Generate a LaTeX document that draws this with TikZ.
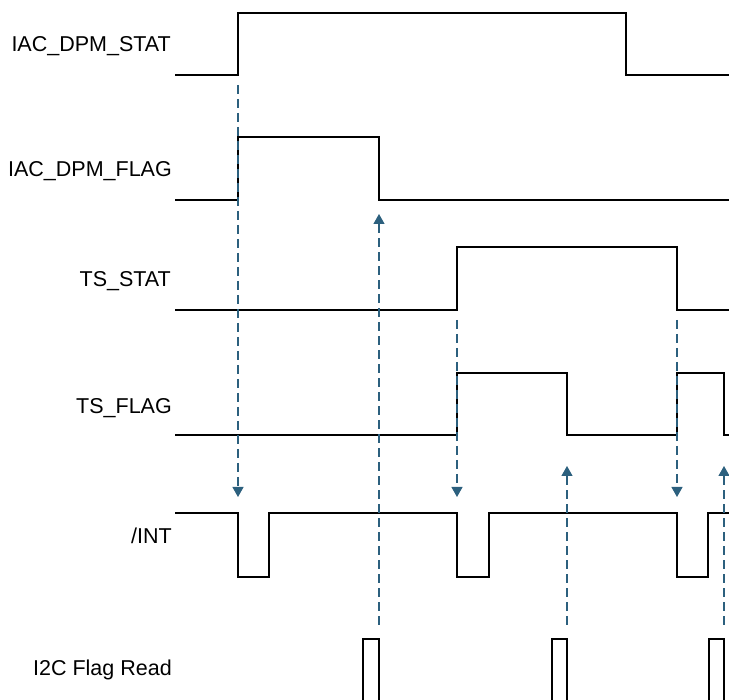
\documentclass[tikz,border=0pt]{standalone}
\usepackage{fontspec}
\setmainfont{Liberation Sans}
\usepackage{tikz}
\usetikzlibrary{arrows.meta}
\definecolor{eventblue}{RGB}{44,96,126}

\begin{document}
\begin{tikzpicture}[x=1pt,y=-1pt,
    wave/.style={line width=2pt,black,line join=miter},
    evarrow/.style={eventblue,line width=1.2pt,dash pattern=on 9pt off 5pt,-{Triangle[width=11pt,length=10pt]}},
    sig/.style={anchor=base east,inner sep=0pt,font=\fontsize{21.5}{25}\selectfont}]
\useasboundingbox (0,0) rectangle (729,700);
% signal names
\node[sig] (dpmstat) at (171,52) {IAC\_DPM\_STAT};
\node[sig] (dpmflag) at (172,177) {IAC\_DPM\_FLAG};
\node[sig] (tsstat) at (171,287) {TS\_STAT};
\node[sig] (tsflag) at (172,414) {TS\_FLAG};
\node[sig] (int) at (172,544) {/INT};
\node[sig] (i2c) at (172,675) {I2C Flag Read};
% waveforms
\draw[wave] (175,75)--(238,75)--(238,13)--(626,13)--(626,75)--(729,75);
\draw[wave] (175,200)--(238,200)--(238,137)--(379,137)--(379,200)--(729,200);
\draw[wave] (175,310)--(457,310)--(457,247)--(677,247)--(677,310)--(729,310);
\draw[wave] (175,435)--(457,435)--(457,373)--(567,373)--(567,435)--(677,435)--(677,373)--(724,373)--(724,435)--(729,435);
\draw[wave] (175,513)--(238,513)--(238,577)--(269,577)--(269,513)--(457,513)--(457,577)--(489,577)--(489,513)--(677,513)--(677,577)--(708,577)--(708,513)--(729,513);
\draw[wave] (363,700)--(363,639)--(379,639)--(379,700);
\draw[wave] (552,700)--(552,639)--(567,639)--(567,700);
\draw[wave] (709,700)--(709,639)--(724,639)--(724,700);
% events
\coordinate (dpmrise) at (238,85);  \coordinate (intfall1) at (238,497);
\coordinate (read1) at (379,625);   \coordinate (dpmclr) at (379,214);
\coordinate (tsrise) at (457,320);  \coordinate (intfall2) at (457,497);
\coordinate (read2) at (567,625);   \coordinate (tsclr1) at (567,466);
\coordinate (tsfall) at (677,320);  \coordinate (intfall3) at (677,497);
\coordinate (read3) at (724,625);   \coordinate (tsclr2) at (724,466);
\draw[evarrow] (dpmrise) -- (intfall1);
\draw[evarrow] (read1) -- (dpmclr);
\draw[evarrow] (tsrise) -- (intfall2);
\draw[evarrow] (read2) -- (tsclr1);
\draw[evarrow] (tsfall) -- (intfall3);
\draw[evarrow] (read3) -- (tsclr2);
\end{tikzpicture}
\end{document}
